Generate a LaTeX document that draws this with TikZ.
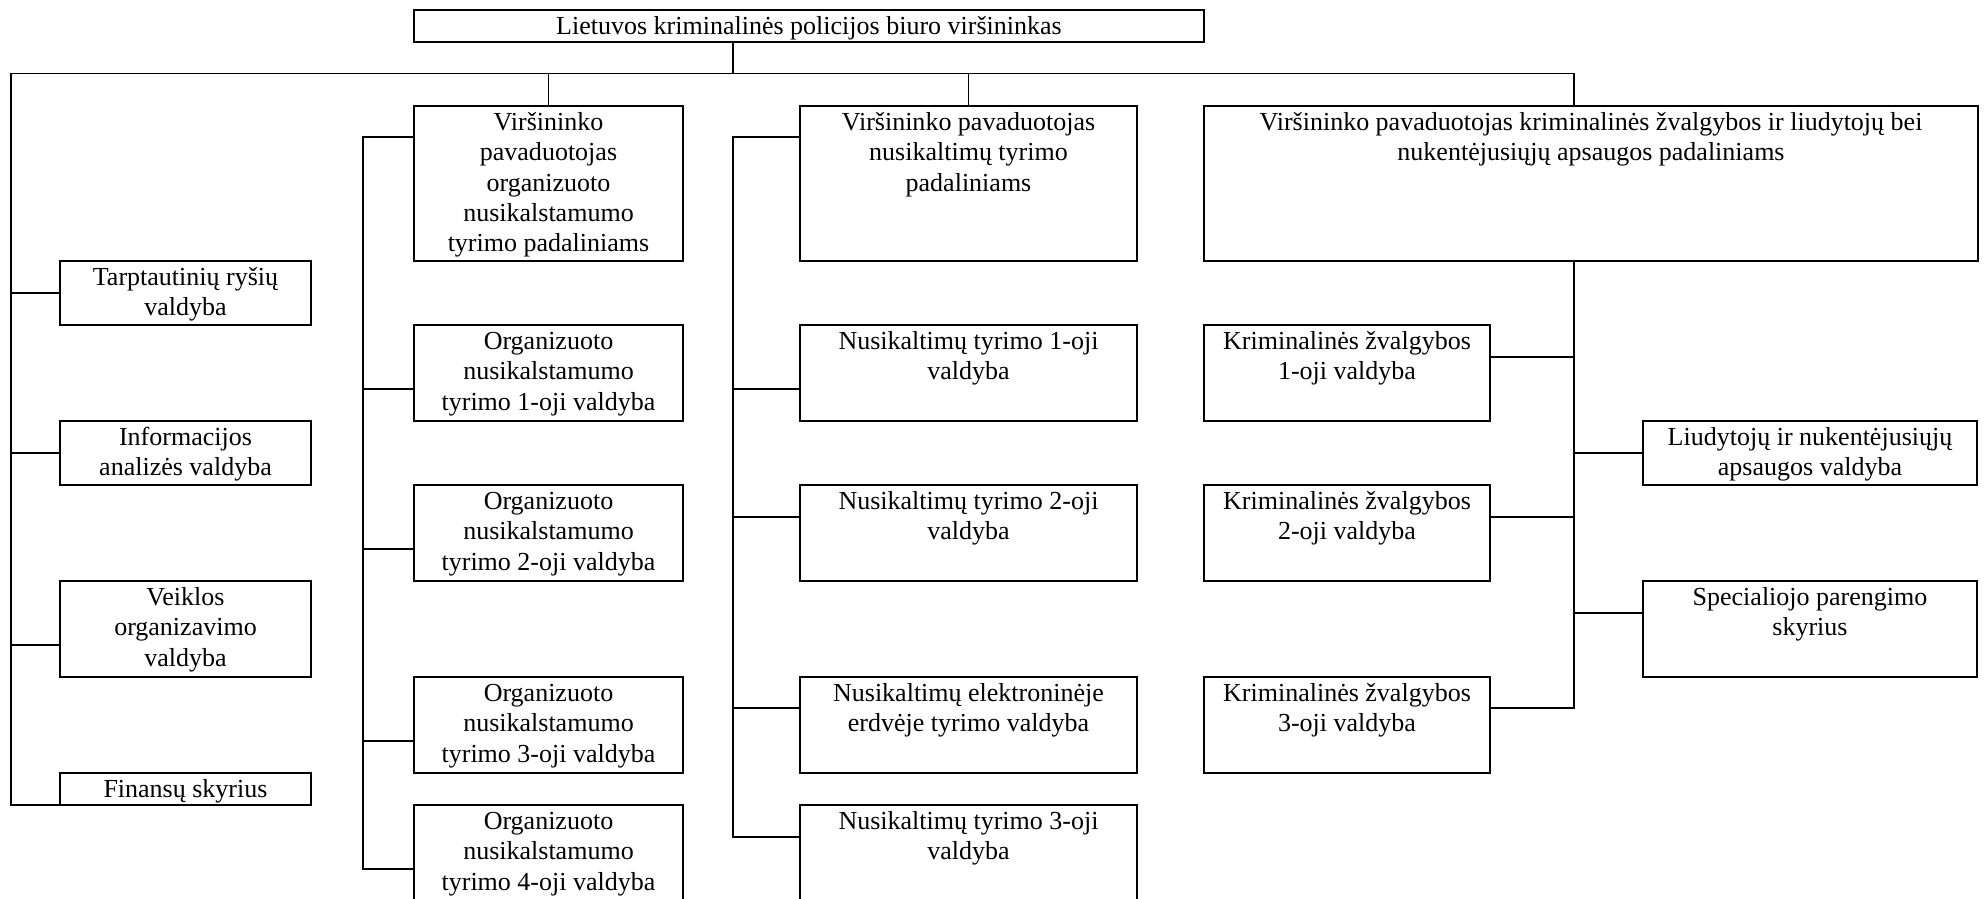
\documentclass[tikz,border=0pt]{standalone}
\usepackage{fontspec}
\setmainfont{Liberation Serif}
\newlength\pxu
\setlength\pxu{0.4615pt}
\tikzset{
  obox/.style={draw, line width=0.75pt, inner sep=0pt, outer sep=0pt, anchor=north west},
  conn/.style={draw, line width=0.75pt}
}
\newcommand\obox[6]{\node[obox] (#1) at (#2,#3) {\parbox[c][#5\pxu][t]{#4\pxu}{\centering\rule{0pt}{11.3pt}#6\par}};}
\begin{document}
\begin{tikzpicture}[x=0.4615pt, y=-0.4615pt, line width=0.75pt, font=\fontsize{12}{14}\selectfont]
\useasboundingbox (0,0) rectangle (1984,899);
\clip (0,0) rectangle (1984,899);
% top
\obox{top}{414}{10}{790}{32}{Lietuvos kriminalinės policijos biuro viršininkas}
% deputies
\obox{dOrg}{414}{106}{269}{155}{Viršininko\\pavaduotojas\\organizuoto\\nusikalstamumo\\tyrimo padaliniams}
\obox{dNus}{800}{106}{337}{155}{Viršininko pavaduotojas\\nusikaltimų tyrimo\\padaliniams}
\obox{dKrim}{1204}{106}{774}{155}{Viršininko pavaduotojas kriminalinės žvalgybos ir liudytojų bei\\nukentėjusiųjų apsaugos padaliniams}
% left column
\obox{tarp}{60}{261}{251}{64}{Tarptautinių ryšių\\valdyba}
\obox{info}{60}{421}{251}{64}{Informacijos\\analizės valdyba}
\obox{veik}{60}{581}{251}{96}{Veiklos\\organizavimo\\valdyba}
\obox{fin}{60}{773}{251}{32}{Finansų skyrius}
% organised crime column
\obox{o1}{414}{325}{269}{96}{Organizuoto\\nusikalstamumo\\tyrimo 1-oji valdyba}
\obox{o2}{414}{485}{269}{96}{Organizuoto\\nusikalstamumo\\tyrimo 2-oji valdyba}
\obox{o3}{414}{677}{269}{96}{Organizuoto\\nusikalstamumo\\tyrimo 3-oji valdyba}
\obox{o4}{414}{805}{269}{100}{Organizuoto\\nusikalstamumo\\tyrimo 4-oji valdyba}
% crime investigation column
\obox{n1}{800}{325}{337}{96}{Nusikaltimų tyrimo 1-oji\\valdyba}
\obox{n2}{800}{485}{337}{96}{Nusikaltimų tyrimo 2-oji\\valdyba}
\obox{ne}{800}{677}{337}{96}{Nusikaltimų elektroninėje\\erdvėje tyrimo valdyba}
\obox{n3}{800}{805}{337}{100}{Nusikaltimų tyrimo 3-oji\\valdyba}
% criminal intelligence column
\obox{k1}{1204}{325}{286}{96}{Kriminalinės žvalgybos\\1-oji valdyba}
\obox{k2}{1204}{485}{286}{96}{Kriminalinės žvalgybos\\2-oji valdyba}
\obox{k3}{1204}{677}{286}{96}{Kriminalinės žvalgybos\\3-oji valdyba}
\obox{liud}{1643}{421}{334}{64}{Liudytojų ir nukentėjusiųjų\\apsaugos valdyba}
\obox{spec}{1643}{581}{334}{96}{Specialiojo parengimo\\skyrius}
% bus coordinates
\coordinate (busL) at (11,73.5);
\coordinate (busR) at (1574,73.5);
\coordinate (j0) at (733,73.5);
\coordinate (bO) at (363,137);
\coordinate (bN) at (733,137);
% main bus
\draw[conn] (top.south -| j0) -- (j0);
\draw[conn] (fin.south west) -- (fin.south west -| busL) -- (busL) -- (busR) -- (busR |- dKrim.north);
\draw[conn] (dOrg.north) -- (dOrg.north |- busL);
\draw[conn] (dNus.north) -- (dNus.north |- busL);
% left column
\draw[conn] (tarp.west |- 0,293) -- (busL |- 0,293);
\draw[conn] (info.west |- 0,453) -- (busL |- 0,453);
\draw[conn] (veik.west |- 0,645) -- (busL |- 0,645);
% organised crime bracket
\draw[conn] (dOrg.west |- bO) -- (bO) -- (bO |- 0,869) -- (o4.west |- 0,869);
\draw[conn] (bO |- 0,389) -- (o1.west |- 0,389);
\draw[conn] (bO |- 0,549) -- (o2.west |- 0,549);
\draw[conn] (bO |- 0,741) -- (o3.west |- 0,741);
% crime investigation bracket
\draw[conn] (dNus.west |- bN) -- (bN) -- (bN |- 0,837) -- (n3.west |- 0,837);
\draw[conn] (bN |- 0,389) -- (n1.west |- 0,389);
\draw[conn] (bN |- 0,517) -- (n2.west |- 0,517);
\draw[conn] (bN |- 0,708) -- (ne.west |- 0,708);
% criminal intelligence trunk
\draw[conn] (dKrim.south -| busR) -- (busR |- 0,708) -- (k3.east |- 0,708);
\draw[conn] (k1.east |- 0,357) -- (busR |- 0,357);
\draw[conn] (k2.east |- 0,517) -- (busR |- 0,517);
\draw[conn] (busR |- 0,453) -- (liud.west |- 0,453);
\draw[conn] (busR |- 0,613) -- (spec.west |- 0,613);
\end{tikzpicture}
\end{document}
